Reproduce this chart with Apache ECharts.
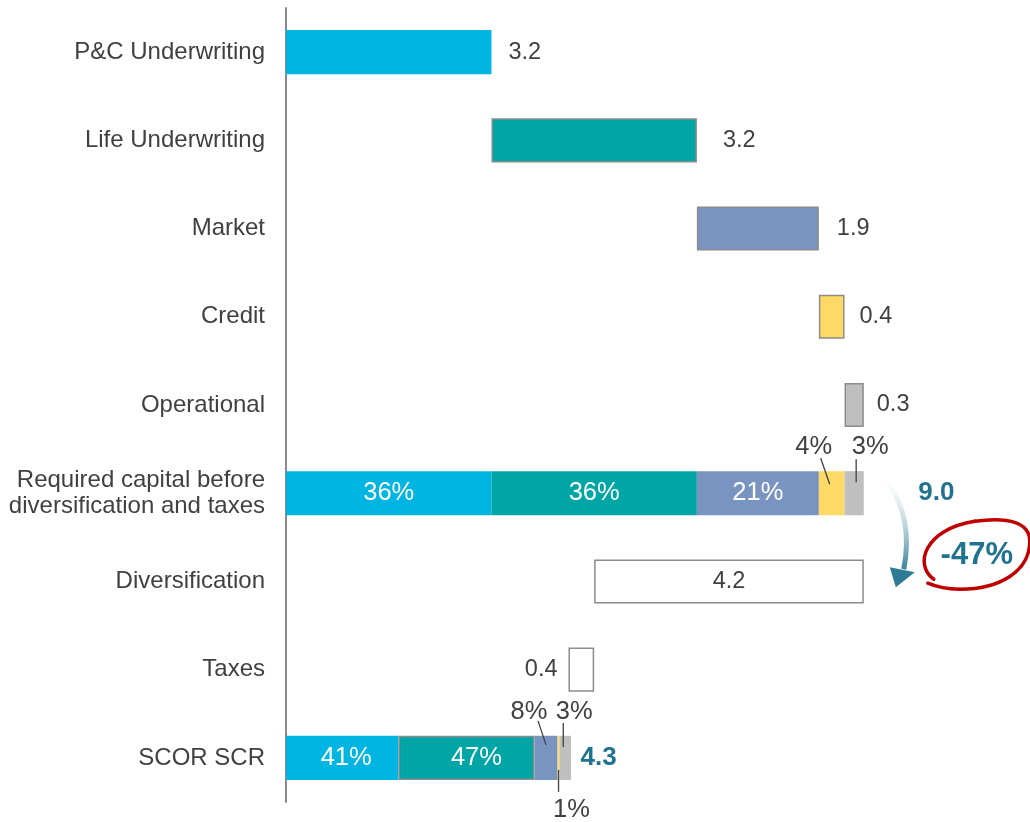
<!DOCTYPE html>
<html><head><meta charset="utf-8">
<script src="https://cdn.jsdelivr.net/npm/echarts/dist/echarts.min.js"></script>
<style>html,body{margin:0;padding:0;background:#fff}#c{width:1030px;height:822px}</style>
</head><body><div id="c"></div>
<script>
// ---- data ----
const categories = ['P&C Underwriting', 'Life Underwriting', 'Market', 'Credit', 'Operational',
  'Required capital before\ndiversification and taxes', 'Diversification', 'Taxes', 'SCOR SCR'];
const riskValues = [3.2, 3.2, 1.9, 0.4, 0.3];          // P&C, Life, Market, Credit, Operational
const totalBeforeDiv = 9.0;
const requiredShares = [36, 36, 21, 4, 3];             // % of required capital
const diversification = 4.2;
const taxes = 0.4;
const scrTotal = 4.3;
const scrSegments = [1.75, 2.12, 0.36, 0.03, 0.18];     // drawn segment lengths of SCOR SCR
const scrShares = [41, 47, 8, 1, 3];                   // % of SCOR SCR

// ---- styling ----
const FONT = "'Liberation Sans', Arial, sans-serif";
const FS = 23.5;
const PFS = 25.5;
const TXT = '#404040';
const ACCENT = '#1F7391';
const colors = ['#00B5E2', '#00A6A6', '#7A94C2', '#FFD966', '#BFBFBF'];
const BORDER = '#8C8C8C';
const valueGap = [17, 26, 18, 15, 13];
const ROW_REQ = 5, ROW_DIV = 6, ROW_TAX = 7, ROW_SCR = 8;

const chart = echarts.init(document.getElementById('c'), null, {renderer: 'canvas'});

// base (invisible) series for waterfall
const base = new Array(categories.length).fill('-');
let cum = 0;
riskValues.forEach((v, i) => { base[i] = cum; cum += v; });
base[ROW_REQ] = 0;
base[ROW_DIV] = totalBeforeDiv - diversification;
base[ROW_TAX] = totalBeforeDiv - diversification - taxes;
base[ROW_SCR] = 0;

const pctLabel = (txt, extra) => Object.assign({
  show: true, formatter: txt, fontSize: PFS, fontFamily: FONT
}, extra);

const reqLabelCfg = [
  {position: 'inside', color: '#fff'},
  {position: 'inside', color: '#fff'},
  {position: 'inside', color: '#fff'},
  {position: 'top', color: TXT, offset: [-18, -6]},
  {position: 'top', color: TXT, offset: [16, -6]}
];
const scrLabelCfg = [
  {position: 'inside', color: '#fff', offset: [4, 0]},
  {position: 'inside', color: '#fff', offset: [10, 0]},
  {position: 'top', color: TXT, offset: [-17, -6]},
  {position: 'bottom', color: TXT, offset: [13, 12]},
  {position: 'top', color: TXT, offset: [9, -6]}
];

const series = [{
  type: 'bar', stack: 'w', barWidth: '50%', silent: true,
  itemStyle: {color: 'transparent'}, data: base
}];

riskValues.forEach((v, k) => {
  const data = new Array(categories.length).fill('-');
  data[k] = {
    value: v,
    itemStyle: k === 0 ? {} : {borderColor: BORDER, borderWidth: 1.5},
    label: {show: true, position: 'right', distance: valueGap[k], formatter: v.toFixed(1),
      color: TXT, fontSize: FS, fontFamily: FONT}
  };
  data[ROW_REQ] = {value: v, label: pctLabel(requiredShares[k] + '%', reqLabelCfg[k])};
  data[ROW_SCR] = {
    value: scrSegments[k],
    itemStyle: k === 1 ? {borderColor: BORDER, borderWidth: 1.5} : {},
    label: pctLabel(scrShares[k] + '%', scrLabelCfg[k])
  };
  series.push({type: 'bar', stack: 'w', barWidth: '50%', itemStyle: {color: colors[k]}, data});
});

const whiteData = new Array(categories.length).fill('-');
whiteData[ROW_DIV] = {value: diversification,
  label: {show: true, position: 'inside', formatter: diversification.toFixed(1), color: TXT, fontSize: FS, fontFamily: FONT}};
whiteData[ROW_TAX] = {value: taxes,
  label: {show: true, position: 'left', distance: 11, formatter: taxes.toFixed(1), color: TXT, fontSize: FS, fontFamily: FONT}};
series.push({type: 'bar', stack: 'w', barWidth: '50%',
  itemStyle: {color: '#fff', borderColor: BORDER, borderWidth: 1.5}, data: whiteData});

const scrEnd = scrSegments.reduce((a, b) => a + b, 0);
const totLabel = {show: true, position: 'right', color: ACCENT, fontWeight: 'bold', fontSize: 26, fontFamily: FONT};
series.push({
  type: 'scatter', symbolSize: 1, itemStyle: {color: 'rgba(0,0,0,0)', opacity: 1}, silent: true,
  data: [
    {value: [totalBeforeDiv, categories[ROW_REQ]],
      label: Object.assign({}, totLabel, {distance: 54, formatter: totalBeforeDiv.toFixed(1)})},
    {value: [scrEnd, categories[ROW_SCR]],
      label: Object.assign({}, totLabel, {distance: 9, formatter: scrTotal.toFixed(1)})}
  ]
});

chart.setOption({
  animation: false,
  textStyle: {fontFamily: FONT},
  grid: {left: 286, top: 8, width: 642, height: 794, containLabel: false},
  xAxis: {type: 'value', min: 0, max: 10, show: false},
  yAxis: {
    type: 'category', data: categories, inverse: true,
    axisLine: {show: true, lineStyle: {color: '#8A8A8A', width: 2}},
    axisTick: {show: false},
    axisLabel: {color: TXT, fontSize: 24, fontFamily: FONT, margin: 21, lineHeight: 26}
  },
  series
});

// ---- annotations (positioned from the chart's own scales) ----
const px = (x, row) => chart.convertToPixel({xAxisIndex: 0, yAxisIndex: 0}, [x, categories[row]]);
const reqY = px(0, ROW_REQ)[1];
const scrY = px(0, ROW_SCR)[1];
const reqStart = riskValues.slice(0, 3).reduce((a, b) => a + b, 0);
const yelReq = px(reqStart + riskValues[3] / 2, ROW_REQ)[0];
const grayReq = px(reqStart + riskValues[3] + riskValues[4] / 2, ROW_REQ)[0];
const s2 = scrSegments[0] + scrSegments[1];
const bluScr = px(s2 + scrSegments[2] / 2, ROW_SCR)[0];
const yelScr = px(s2 + scrSegments[2] + scrSegments[3] / 2, ROW_SCR)[0];
const grayScr = px(s2 + scrSegments[2] + scrSegments[3] + scrSegments[4] / 2, ROW_SCR)[0];
const line = (x1, y1, x2, y2) => ({type: 'line', silent: true, z: 100,
  shape: {x1, y1, x2, y2}, style: {stroke: '#404040', lineWidth: 1.3}});

const p9 = px(totalBeforeDiv, ROW_REQ);
const ax = p9[0] - 2, ay = p9[1];
const bez = (p1, c1, c2, p2, style) => ({type: 'bezierCurve', silent: true, z: 100,
  shape: {x1: ax + p1[0], y1: ay + p1[1], cpx1: ax + c1[0], cpy1: ay + c1[1],
          cpx2: ax + c2[0], cpy2: ay + c2[1], x2: ax + p2[0], y2: ay + p2[1]},
  style: Object.assign({fill: null}, style)});
const red = {stroke: '#C00000', lineWidth: 3.5, lineCap: 'round'};
const reduction = Math.round(-diversification / totalBeforeDiv * 100) + '%';

chart.setOption({
  graphic: [
    line(yelReq - 11, reqY - 35, yelReq - 2, reqY - 9),
    line(grayReq + 2, reqY - 34, grayReq + 2, reqY - 11),
    line(bluScr - 8, scrY - 37, bluScr, scrY - 13),
    line(grayScr - 2, scrY - 35, grayScr - 2, scrY - 11),
    line(yelScr, scrY + 12, yelScr, scrY + 34),
    bez([25, -12], [45, 15], [48, 45], [42, 76], {lineWidth: 5,
      stroke: {type: 'linear', x: 0, y: 0, x2: 0, y2: 1,
        colorStops: [{offset: 0, color: 'rgba(255,255,255,0.3)'}, {offset: 1, color: '#2E7B96'}]}}),
    {type: 'polygon', silent: true, z: 100,
      shape: {points: [[ax + 28, ay + 74], [ax + 53, ay + 79], [ax + 34, ay + 94]]},
      style: {fill: '#2E7B96'}},
    bez([72, 86], [52, 72], [62, 36], [113, 28], red),
    bez([113, 28], [148, 23], [168, 30], [168, 48], red),
    bez([168, 48], [168, 78], [138, 96], [98, 96], red),
    bez([98, 96], [83, 96], [73, 93], [66, 90], red),
    {type: 'text', silent: true, z: 100, x: ax + 115, y: ay + 62,
      style: {text: reduction, fill: ACCENT, font: 'bold 31px ' + FONT, textAlign: 'center', textVerticalAlign: 'middle'}}
  ]
});
</script>
</body></html>
